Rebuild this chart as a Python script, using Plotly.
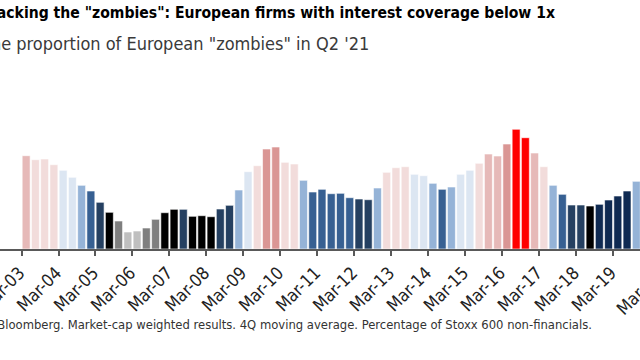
import plotly.graph_objects as go

# Estimated share of European "zombie" firms (%), quarterly from Q1 2003 (visible part)
zombie_share = [9.33, 8.93, 9.00, 8.43, 7.87, 7.17, 6.37, 5.80, 4.67, 3.67,
                2.80, 1.70, 1.80, 2.10, 2.97, 3.63, 3.97, 3.97, 3.27, 3.33,
                3.23, 4.00, 4.37, 5.90, 7.73, 8.33, 10.00, 10.20, 8.67, 8.50,
                6.87, 5.70, 5.97, 5.53, 5.57, 5.13, 5.00, 4.93, 6.10, 7.67,
                8.13, 8.23, 7.47, 7.33, 6.57, 5.97, 6.20, 7.47, 7.87, 8.57,
                9.50, 9.30, 10.50, 11.97, 11.13, 9.60, 8.23, 6.37, 5.47, 4.40,
                4.40, 4.30, 4.47, 4.90, 5.30, 5.80, 6.77]

bar_colors = ["#e6b9b8", "#f2dcdb", "#f2dcdb", "#f2dcdb", "#dce6f2", "#dce6f2", "#95b3d7", "#376092", "#254061", "#000000",
              "#7f7f7f", "#bfbfbf", "#bfbfbf", "#7f7f7f", "#7f7f7f", "#000000", "#000000", "#254061", "#000000", "#000000",
              "#000000", "#254061", "#254061", "#95b3d7", "#dce6f2", "#f2dcdb", "#da9694", "#da9694", "#f2dcdb", "#f2dcdb",
              "#95b3d7", "#376092", "#376092", "#376092", "#376092", "#376092", "#254061", "#254061", "#95b3d7", "#f2dcdb",
              "#f2dcdb", "#f2dcdb", "#dce6f2", "#dce6f2", "#95b3d7", "#376092", "#95b3d7", "#dce6f2", "#dce6f2", "#f2dcdb",
              "#e6b9b8", "#e6b9b8", "#da9694", "#ff0000", "#ff0000", "#e6b9b8", "#f2dcdb", "#95b3d7", "#376092", "#254061",
              "#254061", "#000000", "#0f2a52", "#0f2a52", "#0f2a52", "#0f2a52", "#95b3d7"]

tick_labels = ["Mar-03", "Mar-04", "Mar-05", "Mar-06", "Mar-07", "Mar-08", "Mar-09", "Mar-10",
               "Mar-11", "Mar-12", "Mar-13", "Mar-14", "Mar-15", "Mar-16", "Mar-17", "Mar-18",
               "Mar-19", "Mar-20"]

title_text = 'Tracking the "zombies": European firms with interest coverage below 1x'
subtitle_text = 'The proportion of European "zombies" in Q2 \'21'
source_text = ("Source: BofA Global Research, Bloomberg. Market-cap weighted results. "
               "4Q moving average. Percentage of Stoxx 600 non-financials.")

FONT = "DejaVu Sans Condensed, DejaVu Sans, sans-serif"

x_idx = list(range(len(zombie_share)))
tick_pos = [4 * k - 0.5 for k in range(len(tick_labels))]

fig = go.Figure(go.Bar(
    x=x_idx, y=zombie_share,
    marker=dict(color=bar_colors, line=dict(color="white", width=0.6)),
    hoverinfo="skip",
))

fig.update_layout(
    width=640, height=360,
    margin=dict(l=0, r=0, t=60, b=111),
    paper_bgcolor="white", plot_bgcolor="white",
    bargap=0.14,
    showlegend=False,
    font=dict(family=FONT, color="#222222"),
    xaxis=dict(
        range=[-2.829, 66.40], automargin=False,
        showgrid=False, zeroline=False,
        showline=True, linecolor="#595959", linewidth=1.5,
        ticks="outside", ticklen=5, tickwidth=1.5, tickcolor="#595959",
        tickvals=tick_pos, ticktext=tick_labels,
        tickangle=-45, tickfont=dict(size=17.5, color="#222222", family=FONT),
        ticklabelshift=-2, ticklabeloverflow="allow",
    ),
    yaxis=dict(range=[0, 18.9], visible=False, automargin=False),
    annotations=[
        dict(text="<b>" + title_text + "</b>", xref="paper", yref="paper",
             x=557 / 640, y=1.249, xanchor="right", yanchor="middle",
             showarrow=False, font=dict(size=15.6, color="#000000", family=FONT)),
        dict(text=subtitle_text, xref="paper", yref="paper",
             x=371 / 640, y=1.085, xanchor="right", yanchor="middle",
             showarrow=False, font=dict(size=18, color="#3a3a3a", family=FONT)),
        dict(text=source_text, xref="paper", yref="paper",
             x=594 / 640, y=-0.402, xanchor="right", yanchor="middle",
             showarrow=False, font=dict(size=12.9, color="#333333", family=FONT)),
        dict(text=tick_labels[-1], xref="x", yref="paper",
             x=66.24, y=-0.233, xanchor="center", yanchor="middle", textangle=-45,
             showarrow=False, font=dict(size=17.5, color="#222222", family=FONT)),
    ],
)

fig.write_html("out.html", post_script="document.body.style.margin='0px';",
               config={"displayModeBar": False})
